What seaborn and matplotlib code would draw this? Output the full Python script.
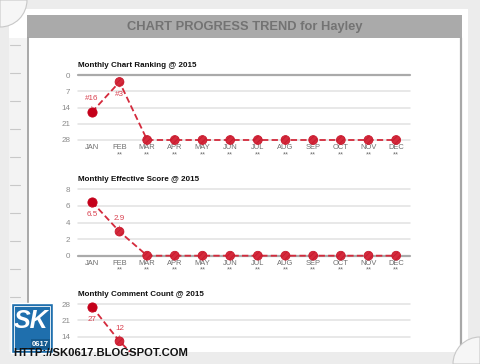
import matplotlib
matplotlib.use("Agg")
import matplotlib.pyplot as plt
from matplotlib.patches import Rectangle, Wedge
import seaborn as sns
import pandas as pd

sns.set_theme(style="white")
plt.rcParams['font.family'] = ['Liberation Sans', 'DejaVu Sans']
plt.rcParams['hatch.color'] = '#ea7d88'
plt.rcParams['hatch.linewidth'] = 0.6

# ---------------- data ----------------
months = ["JAN", "FEB", "MAR", "APR", "MAY", "JUN", "JUL", "AUG", "SEP", "OCT", "NOV", "DEC"]
month_marks = ["", "**", "**", "**", "**", "**", "**", "**", "**", "**", "**", "**"]
ranking = [16, 3, 28, 28, 28, 28, 28, 28, 28, 28, 28, 28]
ranking_labels = ["#16", "#3"]
score = [6.5, 2.9, 0, 0, 0, 0, 0, 0, 0, 0, 0, 0]
score_labels = ["6.5", "2.9"]
comments = [27, 12, 0, 0, 0, 0, 0, 0, 0, 0, 0, 0]
comment_labels = ["27", "12"]
rank_ticks = [0, 7, 14, 21, 28]
score_ticks = [0, 2, 4, 6, 8]
comment_ticks = [0, 7, 14, 21, 28]

main_title = "CHART PROGRESS TREND for Hayley"
titles = ["Monthly Chart Ranking @ 2015", "Monthly Effective Score @ 2015",
          "Monthly Comment Count @ 2015"]

W, H = 480, 364
RED = "#d42a3c"
DARKRED = "#c4001a"
LABRED = "#d9404f"

fig = plt.figure(figsize=(W / 100, H / 100), dpi=100, facecolor="#ececec")

# ---------- background (pixel coords) ----------
bg = fig.add_axes([0, 0, 1, 1], zorder=-10)
bg.set_xlim(0, W)
bg.set_ylim(H, 0)
bg.axis("off")
bg.add_patch(Rectangle((9, 9), 459, 343, facecolor="white", edgecolor="none"))
bg.add_patch(Rectangle((9, 38), 18, 314, facecolor="#f3f3f3", edgecolor="none"))
for yy in range(45, 300, 28):
    bg.plot([10, 20], [yy, yy], color="#c8c8c8", lw=0.8)
bg.add_patch(Rectangle((27, 15), 435, 23, facecolor="#aaaaaa", edgecolor="none"))
bg.text(244.5, 27, main_title, ha="center", va="center", fontsize=9.3,
        fontweight="bold", color="#737373")
bg.plot([27.5, 27.5], [38, 352], color="#9a9a9a", lw=1.2)
bg.plot([461, 461], [38, 352], color="#a8a8a8", lw=1.6)
bg.add_patch(Wedge((0, 0), 27, 0, 90, facecolor="#f6f6f6", edgecolor="#c8c8c8", lw=0.8))


def px_rect(x0, y0, x1, y1):
    return [x0 / W, 1 - y1 / H, (x1 - x0) / W, (y1 - y0) / H]


def make_chart(rect, values, ylim, yticks, ylabels_shown, title, labels, offsets,
               base_y, show_x=True):
    ax = fig.add_axes(rect, zorder=1)
    ax.set_facecolor("none")
    df = pd.DataFrame({"x": range(len(months)), "y": values})
    sns.lineplot(data=df, x="x", y="y", ax=ax, color=RED, lw=1.3,
                 linestyle=(0, (3.5, 1.8)), zorder=3, clip_on=False)
    sns.scatterplot(data=df.iloc[1:], x="x", y="y", ax=ax, color=RED, s=40,
                    edgecolor="#c8192d", linewidth=0.6, zorder=4, clip_on=False,
                    hatch="//////")
    sns.scatterplot(data=df.iloc[:1], x="x", y="y", ax=ax, color=DARKRED, s=44,
                    edgecolor=DARKRED, linewidth=0.6, zorder=4, clip_on=False)
    ax.set_xlim(-0.5, 11.5)
    ax.set_ylim(*ylim)
    ax.set_yticks(yticks)
    ax.set_yticklabels([str(t) if t in ylabels_shown else "" for t in yticks])
    ax.set_xticks(range(len(months)))
    if show_x:
        ax.set_xticklabels([m + ("\n" + k if k else "\n ") for m, k in zip(months, month_marks)],
                           linespacing=0.95)
    else:
        ax.set_xticklabels([])
    ax.tick_params(axis="x", length=0, pad=3, labelsize=5.4, colors="#6e6e6e")
    ax.tick_params(axis="y", length=0, pad=5.5, labelsize=5.8, colors="#8a8a8a")
    for sp in ax.spines.values():
        sp.set_visible(False)
    for t in yticks:
        if t == base_y:
            ax.axhline(t, color="#aaaaaa", lw=1.6, zorder=1, clip_on=False)
        else:
            ax.axhline(t, color="#e2e2e2", lw=1.1, zorder=1, clip_on=False)
    ax.set_xlabel("")
    ax.set_ylabel("")
    ax.set_title(title, loc="left", fontsize=5.8, fontweight="bold", color="#111111",
                 pad=6, x=0.0)
    for i, (lab, off) in enumerate(zip(labels, offsets)):
        ax.annotate(lab, xy=(i, values[i]), xytext=(0, off), textcoords="offset points",
                    ha="center", va="center", fontsize=5.8, color=LABRED,
                    arrowprops=dict(arrowstyle="-", color=LABRED, lw=0.5,
                                    shrinkA=0.5, shrinkB=3.5), zorder=5)
    return ax


ax1 = make_chart(px_rect(78, 75, 410, 140), ranking, (28, 0), rank_ticks, rank_ticks,
                 titles[0], ranking_labels, [9.5, -9], 0)
ax2 = make_chart(px_rect(78, 189.3, 410, 255.7), score, (0, 8), score_ticks, score_ticks,
                 titles[1], score_labels, [-9.5, 9.5], 0)
ax3 = make_chart(px_rect(78, 304.3, 410, 369), comments, (0, 28), comment_ticks,
                 [14, 21, 28], titles[2], comment_labels, [-9.5, 9.5], 0, show_x=False)

# ---------- foreground overlay ----------
fg = fig.add_axes([0, 0, 1, 1], zorder=10)
fg.set_xlim(0, W)
fg.set_ylim(H, 0)
fg.axis("off")
fg.patch.set_alpha(0)
fg.add_patch(Rectangle((0, 352), W, 12, facecolor="#ececec", edgecolor="none"))
fg.add_patch(Wedge((W, H), 27, 180, 270, facecolor="#f6f6f6", edgecolor="#c8c8c8", lw=0.8))
# logo
fg.add_patch(Rectangle((11, 303), 42, 50, facecolor="#1f6fad", edgecolor="white", lw=1.0))
fg.add_patch(Rectangle((14, 306), 36, 44, facecolor="#1f6fad", edgecolor="white", lw=0.6))
fg.text(31, 321, "SK", ha="center", va="center", fontsize=18, fontweight="bold",
        color="white", style="italic")
fg.add_patch(Rectangle((31, 339), 19, 10, facecolor="#155a8f", edgecolor="none"))
fg.text(40.5, 344.5, "0617", ha="center", va="center", fontsize=5.5, fontweight="bold",
        color="white")
fg.text(13, 353, "HTTP://SK0617.BLOGSPOT.COM", ha="left", va="center", fontsize=8.1,
        fontweight="bold", color="#111111")

fig.savefig("out.png", dpi=100, facecolor=fig.get_facecolor())
